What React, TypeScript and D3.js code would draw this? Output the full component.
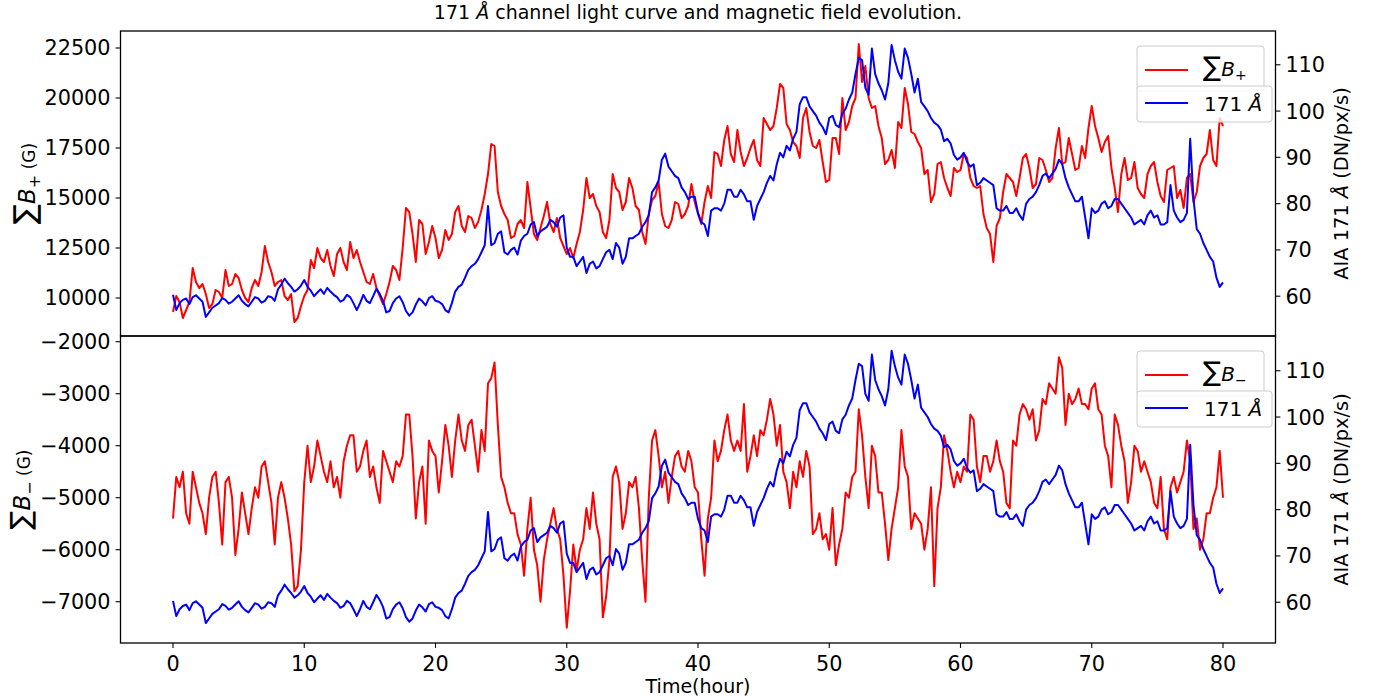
import React from 'react';
import * as d3 from 'd3';

// sampling step of the series (hours)
const TIME_STEP = 0.25;

// Sum of positive flux B+ (G), t = 0 .. 80 h every 0.25 h (rows of 2.5 h)
const bPlus = [
  9300, 10100, 9800, 9000, 9400, 9800, 11500, 10800, 10500, 10700,
  10200, 9500, 9700, 10400, 10300, 10000, 11400, 10600, 10700, 11200,
  11000, 10400, 10000, 9800, 10500, 10900, 10600, 11300, 12600, 11800,
  11300, 10600, 10800, 10900, 10100, 9900, 10200, 8800, 9000, 9600,
  10100, 10400, 11900, 11500, 12500, 12000, 11800, 12400, 11600, 11100,
  12200, 12500, 11800, 11400, 12800, 12000, 12400, 11800, 11300, 10800,
  10700, 11200, 10500, 10100, 9700, 10200, 10800, 11600, 11400, 10900,
  12500, 14500, 14300, 13200, 11800, 13900, 13700, 12200, 12800, 13600,
  13000, 12000, 12400, 13400, 12900, 13200, 14300, 14600, 13600, 13300,
  14100, 14000, 13500, 13800, 14400, 15200, 16200, 17700, 17600, 15300,
  14600, 14200, 13900, 13000, 13100, 13700, 13900, 13500, 15800, 14500,
  13200, 12900, 13500, 14100, 14800, 13700, 13300, 14000, 13000, 12600,
  12200, 12500, 12000, 12700, 13300, 14400, 16000, 15000, 15200, 14600,
  14300, 13300, 13000, 13900, 16200, 15500, 15300, 14400, 14800, 16000,
  15500, 14600, 14400, 13300, 12700, 14200, 14900, 15100, 15800, 14200,
  13600, 13500, 13900, 14800, 14700, 14000, 14200, 14600, 15700, 14800,
  14200, 13700, 14800, 15600, 15000, 17300, 17200, 16600, 17900, 18600,
  17200, 16800, 18400, 17300, 16600, 17000, 17500, 17900, 16900, 16600,
  19000, 18700, 18400, 18600, 19500, 20700, 20500, 18700, 18400, 17800,
  17600, 17000, 19000, 19500, 18300, 17600, 17500, 17900, 16800, 15800,
  15900, 18000, 18000, 17200, 20000, 18400, 18800, 19600, 20000, 22700,
  20800, 21600, 20000, 19500, 19600, 18600, 18000, 16700, 16900, 17400,
  16500, 18800, 18500, 20500, 19700, 18300, 18200, 17800, 17500, 16200,
  16400, 14800, 15200, 16700, 16800, 16000, 15500, 15100, 16500, 16300,
  16400, 17200, 17000, 16000, 15600, 15500, 15600, 14200, 13500, 13200,
  11800, 13600, 14000, 15300, 16200, 16000, 15800, 15100, 16000, 17000,
  17200, 16500, 15500, 15700, 17000, 16900, 16400, 15800, 16000, 17500,
  18500, 16700, 16800, 18000, 17200, 16400, 16500, 17600, 17000, 18500,
  19600, 18600, 18000, 17300, 17800, 18100, 16500, 15500, 14300, 16200,
  17000, 15900, 16000, 16800, 15500, 15200, 15000, 16200, 16600, 16800,
  15800, 15100, 14800, 16400, 16500, 16600, 15000, 15400, 14500, 16000,
  16200, 14800, 15300, 16600, 17000, 17200, 18400, 16900, 16600, 19000,
  18600,
];

// Sum of negative flux B- (G)
const bMinus = [
  -5400, -4600, -4800, -4500, -5300, -5500, -4500, -4800, -5100, -5300,
  -5700, -5000, -4600, -4500, -5100, -5900, -4700, -4600, -5000, -6100,
  -5600, -4900, -5300, -5700, -5200, -4800, -5000, -4400, -4300, -4700,
  -5100, -5900, -5000, -4700, -5000, -5400, -5900, -6800, -6700, -6000,
  -4700, -4000, -4700, -4400, -3900, -4200, -4500, -4700, -4300, -4800,
  -4600, -5000, -4300, -4000, -3800, -3800, -4500, -4400, -4100, -3900,
  -4600, -4400, -4800, -5100, -4100, -4300, -4500, -4700, -4300, -4400,
  -4200, -3400, -3400, -4200, -5400, -4700, -4400, -5500, -3900, -4100,
  -4200, -4900, -4300, -3600, -4000, -4600, -3900, -3400, -3900, -4100,
  -3600, -3500, -4000, -4500, -3700, -4100, -2800, -2700, -2400, -3600,
  -4600, -4800, -5100, -5300, -5300, -5700, -5900, -6500, -5600, -5000,
  -6000, -6300, -7000, -6200, -5800, -5500, -5200, -5600, -5800, -6500,
  -7500, -6800, -5900, -6400, -6000, -5800, -5200, -5600, -4900, -5500,
  -5800, -7300, -6900, -6200, -4600, -4400, -4700, -5600, -5300, -4700,
  -4800, -4600, -5200, -6200, -7000, -5000, -3900, -3700, -4200, -4800,
  -4500, -5100, -4600, -4200, -4100, -4400, -4500, -4100, -4300, -4800,
  -4900, -5800, -6500, -5400, -5000, -3900, -4300, -4100, -3700, -3400,
  -3900, -4100, -3900, -4100, -3200, -4500, -4200, -3800, -4200, -3700,
  -3800, -3500, -3100, -3400, -4000, -3600, -4500, -4700, -5200, -4500,
  -4800, -4300, -4600, -4100, -4400, -5700, -5600, -5300, -5800, -5700,
  -6000, -5200, -6300, -5900, -5600, -4900, -5000, -4600, -4500, -3300,
  -3800, -4600, -5200, -4000, -4200, -4900, -4900, -5500, -6200, -5600,
  -5200, -4800, -3700, -4400, -4600, -5600, -5300, -5400, -5500, -6000,
  -5600, -4800, -6700, -5200, -4800, -3800, -4100, -4500, -4800, -4500,
  -4700, -4400, -4500, -3400, -3500, -4400, -4700, -4200, -4200, -4500,
  -4300, -3900, -4300, -4500, -5100, -5200, -3900, -4000, -3400, -3200,
  -3300, -3500, -3300, -3900, -3700, -3100, -3200, -2800, -2900, -3000,
  -2300, -2500, -3600, -3000, -3200, -3100, -2900, -3200, -3200, -3300,
  -2900, -2800, -3300, -3400, -4000, -4200, -4800, -3400, -3600, -4000,
  -4300, -5100, -4700, -4000, -4100, -4500, -4300, -4500, -4700, -5100,
  -5200, -4600, -5600, -5800, -4800, -4600, -4900, -4700, -4500, -3900,
  -4300, -5600, -5400, -6000, -5800, -5300, -5300, -5000, -4800, -4100,
  -5000,
];

// AIA 171 Å intensity (DN/px/s)
const aia171 = [
  60.3, 57.0, 58.5, 59.2, 59.5, 58.3, 59.8, 60.2, 59.5, 58.8,
  55.5, 56.5, 57.5, 58.0, 58.5, 59.6, 59.2, 58.4, 58.8, 59.5,
  60.2, 59.0, 58.3, 57.8, 58.8, 59.8, 59.5, 58.6, 59.0, 60.0,
  59.8, 59.0, 61.5, 62.5, 63.8, 62.8, 62.0, 61.0, 61.5, 62.3,
  63.5, 62.0, 61.2, 60.0, 60.8, 61.5, 60.5, 61.8, 61.0, 60.3,
  59.8, 58.8, 59.2, 60.3, 59.8, 58.5, 57.0, 58.5, 60.3, 59.0,
  58.5, 60.0, 61.6, 60.5, 59.0, 56.5, 56.8, 58.5, 59.5, 60.0,
  58.7, 56.8, 55.8, 56.5, 58.2, 59.5, 58.9, 58.0, 59.6, 60.0,
  59.0, 58.8, 58.3, 57.0, 56.5, 58.5, 61.0, 62.0, 62.5, 64.0,
  65.7, 66.5, 67.0, 68.0, 69.5, 71.0, 79.5, 71.0, 71.5, 73.5,
  74.0, 69.5, 69.0, 70.0, 70.5, 69.0, 72.0, 73.0, 73.5, 75.5,
  76.0, 73.0, 74.0, 74.5, 75.0, 76.5, 76.0, 75.0, 77.0, 77.5,
  70.5, 68.5, 68.5, 66.5, 67.5, 68.5, 65.0, 67.0, 67.5, 66.0,
  66.5, 68.0, 69.5, 70.0, 68.0, 71.5, 70.5, 67.0, 68.5, 72.5,
  72.5, 73.0, 73.5, 75.0, 76.0, 77.5, 82.5, 83.5, 85.0, 89.5,
  90.8, 88.0, 87.0, 86.0, 85.5, 83.5, 82.5, 81.0, 81.5, 81.5,
  78.0, 76.0, 75.5, 73.0, 78.5, 79.0, 79.0, 78.5, 80.0, 83.0,
  83.0, 81.5, 81.5, 83.0, 82.0, 80.5, 80.5, 76.5, 79.5, 81.0,
  82.5, 84.5, 86.0, 85.0, 88.5, 91.0, 90.0, 92.5, 91.5, 94.0,
  95.5, 101.5, 103.0, 103.0, 101.0, 100.0, 99.0, 97.5, 96.5, 95.0,
  98.5, 99.0, 97.0, 96.5, 99.5, 100.5, 102.5, 104.0, 108.0, 111.5,
  111.0, 105.0, 103.5, 113.5, 108.0, 106.0, 104.5, 102.5, 106.0, 114.3,
  111.0, 108.5, 107.0, 113.5, 111.5, 108.0, 104.0, 107.0, 102.0, 101.0,
  100.0, 98.5, 97.5, 97.0, 96.0, 93.5, 94.0, 93.0, 90.5, 89.5,
  90.0, 91.0, 89.0, 88.0, 88.5, 84.0, 84.5, 85.5, 85.0, 84.5,
  84.0, 79.0, 78.5, 78.5, 79.5, 78.0, 78.0, 79.0, 77.5, 76.5,
  80.0, 81.0, 81.5, 82.5, 84.0, 86.0, 86.5, 85.5, 86.5, 87.5,
  89.5, 88.5, 85.5, 83.5, 82.0, 80.5, 80.5, 81.5, 77.0, 72.5,
  79.0, 78.0, 78.5, 80.0, 80.5, 79.0, 79.5, 81.0, 81.0, 80.0,
  79.0, 78.0, 77.0, 75.5, 76.0, 76.5, 75.5, 77.5, 78.5, 77.0,
  77.5, 75.5, 75.5, 76.0, 84.0, 78.5, 77.0, 76.0, 76.5, 78.0,
  94.0, 81.0, 74.5, 73.5, 71.5, 70.0, 68.5, 67.5, 64.0, 62.0,
  63.0,
];

const xTicks = [0, 10, 20, 30, 40, 50, 60, 70, 80];
const topLeftTicks = [10000, 12500, 15000, 17500, 20000, 22500];
const botLeftTicks = [-7000, -6000, -5000, -4000, -3000, -2000];
const rightTicks = [60, 70, 80, 90, 100, 110];

const TITLE_A = '171 ';
const TITLE_B = ' channel light curve and magnetic field evolution.';
const X_LABEL = 'Time(hour)';

const W = 1377;
const H = 698;
const X0 = 120.5;
const X1 = 1275.5;
const TOP_Y0 = 31;
const MID_Y = 336;
const BOT_Y1 = 643;
const FONT = "'DejaVu Sans', sans-serif";
const TICK = 4.9;
const TICK_FS = 20.8;

const fmt = (v: number) => String(v).replace('-', '\u2212');

function Legend({ y0, sign }: { y0: number; sign: string }) {
  return (
    <g fontFamily={FONT}>
      <rect x={1137} y={y0} width={127} height={45} rx={3} fill="white" fillOpacity={0.8} stroke="#cccccc" strokeWidth={1} />
      <line x1={1145} x2={1188} y1={y0 + 24} y2={y0 + 24} stroke="red" strokeWidth={2} />
      <text x={1203} y={y0 + 30} fontSize={20} fill="black">
        <tspan fontSize={27}>∑</tspan>
        <tspan fontStyle="italic">B</tspan>
        <tspan fontSize={14} dy={4}>{sign}</tspan>
      </text>
      <rect x={1137} y={y0 + 40} width={135} height={36} rx={3} fill="white" fillOpacity={0.8} stroke="#cccccc" strokeWidth={1} />
      <line x1={1145} x2={1188} y1={y0 + 57} y2={y0 + 57} stroke="blue" strokeWidth={2} />
      <text x={1204} y={y0 + 65} fontSize={20} fill="black">
        171 <tspan fontStyle="italic">Å</tspan>
      </text>
    </g>
  );
}

export default function App() {
  const times = bPlus.map((_, i) => i * TIME_STEP);
  const x = d3.scaleLinear().domain([-4, 84]).range([X0, X1]);
  const yTL = d3.scaleLinear().domain([8100, 23350]).range([MID_Y, TOP_Y0]);
  const yTR = d3.scaleLinear().domain([51.4, 117.3]).range([MID_Y, TOP_Y0]);
  const yBL = d3.scaleLinear().domain([-7794, -1890]).range([BOT_Y1, MID_Y]);
  const yBR = d3.scaleLinear().domain([51.2, 117.5]).range([BOT_Y1, MID_Y]);

  const path = (vals: number[], ys: d3.ScaleLinear<number, number>) =>
    d3.line<number>().x((_, i) => x(times[i])).y((d) => ys(d))(vals) || '';

  const leftTicks = (ticks: number[], ys: d3.ScaleLinear<number, number>) =>
    ticks.map((t) => (
      <g key={t}>
        <line x1={X0 - TICK} x2={X0} y1={ys(t)} y2={ys(t)} stroke="black" strokeWidth={1.1} />
        <text x={X0 - TICK - 5} y={ys(t)} dy="0.36em" textAnchor="end" fontSize={TICK_FS} fontFamily={FONT}>{fmt(t)}</text>
      </g>
    ));
  const rightTickEls = (ys: d3.ScaleLinear<number, number>) =>
    rightTicks.map((t) => (
      <g key={t}>
        <line x1={X1} x2={X1 + TICK} y1={ys(t)} y2={ys(t)} stroke="black" strokeWidth={1.1} />
        <text x={X1 + TICK + 5} y={ys(t)} dy="0.36em" textAnchor="start" fontSize={TICK_FS} fontFamily={FONT}>{fmt(t)}</text>
      </g>
    ));

  return (
    <svg width={W} height={H} style={{ position: 'absolute', left: 0, top: 0, background: 'white' }} fontFamily={FONT}>
      <defs>
        <clipPath id="clipTop"><rect x={X0} y={TOP_Y0} width={X1 - X0} height={MID_Y - TOP_Y0} /></clipPath>
        <clipPath id="clipBot"><rect x={X0} y={MID_Y} width={X1 - X0} height={BOT_Y1 - MID_Y} /></clipPath>
      </defs>
      <rect x={0} y={0} width={W} height={H} fill="white" />

      {/* title */}
      <text x={(X0 + X1) / 2} y={19} textAnchor="middle" fontSize={19}>
        {TITLE_A}<tspan fontStyle="italic">Å</tspan>{TITLE_B}
      </text>

      {/* top panel lines */}
      <g clipPath="url(#clipTop)">
        <path d={path(bPlus, yTL)} fill="none" stroke="red" strokeWidth={2} strokeLinejoin="round" />
        <path d={path(aia171, yTR)} fill="none" stroke="blue" strokeWidth={2} strokeLinejoin="round" />
      </g>
      {/* bottom panel lines */}
      <g clipPath="url(#clipBot)">
        <path d={path(bMinus, yBL)} fill="none" stroke="red" strokeWidth={2} strokeLinejoin="round" />
        <path d={path(aia171, yBR)} fill="none" stroke="blue" strokeWidth={2} strokeLinejoin="round" />
      </g>

      {/* frames */}
      <rect x={X0} y={TOP_Y0} width={X1 - X0} height={MID_Y - TOP_Y0} fill="none" stroke="black" strokeWidth={1.3} />
      <rect x={X0} y={MID_Y} width={X1 - X0} height={BOT_Y1 - MID_Y} fill="none" stroke="black" strokeWidth={1.3} />

      {leftTicks(topLeftTicks, yTL)}
      {leftTicks(botLeftTicks, yBL)}
      {rightTickEls(yTR)}
      {rightTickEls(yBR)}

      {/* x ticks */}
      {xTicks.map((t) => (
        <g key={t}>
          <line x1={x(t)} x2={x(t)} y1={BOT_Y1} y2={BOT_Y1 + TICK} stroke="black" strokeWidth={1.1} />
          <text x={x(t)} y={671} textAnchor="middle" fontSize={TICK_FS}>{t}</text>
        </g>
      ))}
      <text x={(X0 + X1) / 2} y={693} textAnchor="middle" fontSize={19}>{X_LABEL}</text>

      {/* left y labels */}
      <text transform={`translate(35, ${(TOP_Y0 + MID_Y) / 2}) rotate(-90)`} textAnchor="middle" fontSize={23}>
        <tspan fontSize={30}>∑</tspan>
        <tspan fontStyle="italic">B</tspan>
        <tspan fontSize={16} dy={5}>+</tspan>
        <tspan fontSize={17} dy={-5}> (G)</tspan>
      </text>
      <text transform={`translate(30, ${(MID_Y + BOT_Y1) / 2}) rotate(-90)`} textAnchor="middle" fontSize={23}>
        <tspan fontSize={28}>∑</tspan>
        <tspan fontStyle="italic">B</tspan>
        <tspan fontSize={16} dy={5}>−</tspan>
        <tspan fontSize={17} dy={-5}> (G)</tspan>
      </text>

      {/* right y labels */}
      <text transform={`translate(1348, ${(TOP_Y0 + MID_Y) / 2}) rotate(-90)`} textAnchor="middle" fontSize={19.4}>
        AIA 171 <tspan fontStyle="italic">Å</tspan> (DN/px/s)
      </text>
      <text transform={`translate(1348, ${(MID_Y + BOT_Y1) / 2}) rotate(-90)`} textAnchor="middle" fontSize={19.4}>
        AIA 171 <tspan fontStyle="italic">Å</tspan> (DN/px/s)
      </text>

      <Legend y0={46} sign="+" />
      <Legend y0={351} sign="−" />
    </svg>
  );
}
